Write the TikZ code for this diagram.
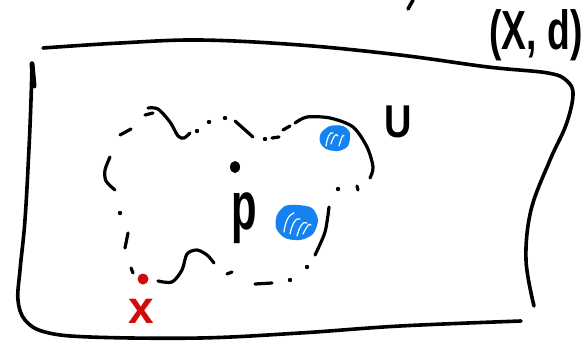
\documentclass[tikz,border=0pt]{standalone}
\usepackage{graphicx}
\usepackage{fontspec}
\setmainfont{Liberation Sans}
\definecolor{penblue}{RGB}{20,130,240}
\definecolor{penred}{RGB}{210,10,10}
\tikzset{
  pen/.style={line width=3.2pt, line cap=round, line join=round},
  frame/.style={line width=3.6pt, line cap=round, line join=round},
  blot/.style={fill=black},
  scrib/.style={white, line width=1.2pt, line cap=round},
  hand/.style={inner sep=0pt, outer sep=0pt, font=\bfseries}
}
\begin{document}
\begin{tikzpicture}[x=1pt,y=-1pt]
\useasboundingbox (0,0) rectangle (588,340);
% frame
\draw[frame] plot[smooth, tension=0.6] coordinates {(43,48) (120,43) (200,40) (300,45) (400,55) (488,67) (548,73) (567,81) (573,95) (566,125) (550,160) (531,210) (526,260) (534,306)};
\draw[frame] plot[smooth, tension=0.6] coordinates {(32,63) (31,100) (29,148) (25,220) (20,270) (18,300) (25,320) (45,332) (90,337) (200,338) (300,333) (400,326) (521,321)};
\draw[line width=5pt, line cap=round] (32,64) -- (34,86);
\draw[frame] (408,9) -- (413,0);
% labels
\node[hand] (XD) at (536,35) {\fontsize{38}{38}\selectfont\scalebox{0.98}[1.45]{(X, d)}};
\node[hand] (U) at (398,122) {\fontsize{40}{40}\selectfont\scalebox{0.95}[1.15]{U}};
\node[hand, text=penred] (x) at (141,311) {\fontsize{46}{46}\selectfont x};
\node[hand] (p) at (244,218) {\fontsize{44}{44}\selectfont\scalebox{0.95}[1.55]{p}};
% centre point
\fill[blot] (235,167) ellipse [x radius=5, y radius=6];
% dashed hand-drawn set boundary
\draw[pen] (120,135) -- (131,129);
\draw[pen] (145,115) -- (153,113);
\draw[pen] plot[smooth] coordinates {(148,108) (158,109) (170,122) (178,136) (184,138) (190,133)};
\fill[blot] (197,131) circle (2.2);
\fill[blot] (209,122) circle (2.2);
\fill[blot] (225,118) circle (2.2);
\draw[pen] (235,121) -- (253,137);
\fill[blot] (265,139) circle (2.2);
\draw[pen] (272,138) -- (279,137);
\draw[pen] (283,130) -- (290,126);
\draw[pen] plot[smooth] coordinates {(295,123) (307,117) (330,118) (353,127) (367,147) (373,167) (370,178)};
\fill[blot] (338,189) circle (2.2);
\draw[pen] (357,186) -- (358,190);
\draw[pen] plot[smooth] coordinates {(329,207) (325,232) (315,255)};
\fill[blot] (307,267) circle (2.2);
\fill[blot] (290,280) circle (2.2);
\draw[pen] (255,284) -- (272,283);
\draw[pen] (227,274) -- (232,272);
\draw[pen] plot[smooth] coordinates {(158,281) (172,282) (182,270) (187,254) (197,250) (207,255) (214,263)};
\draw[pen] (131,268) -- (133,273);
\draw[pen] (128,233) -- (125,248);
\fill[blot] (120,213) circle (2.2);
\draw[pen] plot[smooth] coordinates {(110,157) (105,170) (106,181) (115,190)};
% red point x
\fill[penred] (143,279) circle (5.5);
% blue blobs
\fill[penblue] plot[smooth cycle] coordinates {(321,133) (330,126) (343,126) (350,133) (348,146) (338,151) (326,149) (320,142)};
\draw[scrib] (326,146) .. controls (327,138) and (330,131) .. (333,133);
\draw[scrib] (331,144) .. controls (333,137) and (336,132) .. (338,136);
\draw[scrib] (339,146) .. controls (341,139) and (343,133) .. (344,136);
\fill[penblue] plot[smooth cycle] coordinates {(277,215) (285,206) (298,205) (312,208) (318,220) (313,234) (300,240) (285,238) (276,228)};
\draw[scrib] (284,232) .. controls (285,222) and (289,214) .. (294,213);
\draw[scrib] (290,234) .. controls (292,224) and (296,217) .. (300,219);
\draw[scrib] (297,236) .. controls (299,228) and (303,220) .. (307,223);
\draw[scrib] (303,234) .. controls (306,228) and (309,222) .. (311,225);
\end{tikzpicture}
\end{document}
